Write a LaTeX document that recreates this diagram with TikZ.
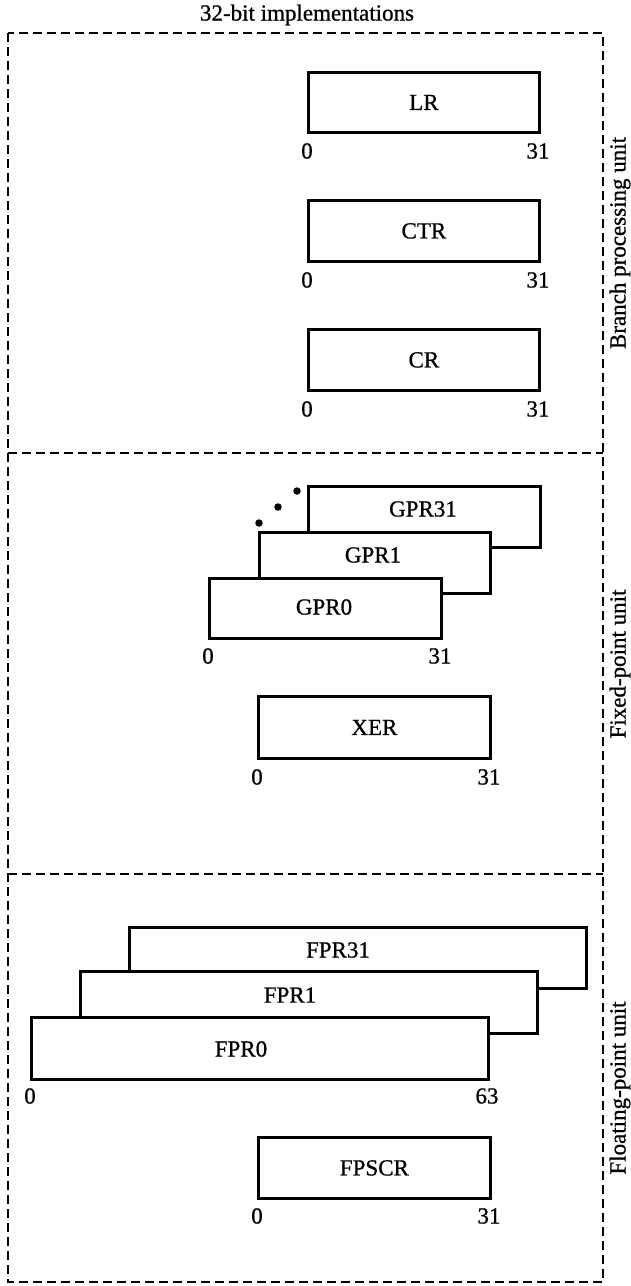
\documentclass[tikz,border=0pt]{standalone}
\usepackage{fontspec}
\setmainfont{Liberation Serif}
\newfontfamily\regfont{Liberation Serif}[RawFeature={embolden=0.8}]
\begin{document}
\begin{tikzpicture}[x=1pt,y=-1pt,
  reg/.style={draw, line width=2.8pt, fill=white, inner sep=0pt, anchor=north west},
  unitline/.style={line width=1.8pt, dash pattern=on 9pt off 5pt},
  txt/.style={font=\regfont\fontsize{23}{25}\selectfont, inner sep=0pt},
  dot/.style={circle, fill, inner sep=0pt, minimum size=7.5pt}]
\useasboundingbox (0,0) rectangle (631,1286);

% title and unit frames
\node[txt] (title) at (307,15) {32-bit implementations};
\coordinate (tl) at (8,33);
\coordinate (br) at (603,1282);
\coordinate (d1l) at (8,453);  \coordinate (d1r) at (603,453);
\coordinate (d2l) at (8,874);  \coordinate (d2r) at (603,874);
\draw[unitline] (tl) rectangle (br);
\draw[unitline] (d1l) -- (d1r);
\draw[unitline] (d2l) -- (d2r);
\node[txt, rotate=90] (bpu) at (620,243) {Branch processing unit};
\node[txt, rotate=90] (fxu) at (620,664) {Fixed-point unit};
\node[txt, rotate=90] (fpu) at (620,1088) {Floating-point unit};

% branch processing unit registers
\node[reg, minimum width=231pt, minimum height=60pt] (lr) at (307,71) {};
\node[txt] (lrname) at (lr.center) {LR};
\node[txt] (lr0) at (307,151) {0};
\node[txt] (lr31) at (538,151) {31};

\node[reg, minimum width=231pt, minimum height=61pt] (ctr) at (307,199) {};
\node[txt] (ctrname) at (ctr.center) {CTR};
\node[txt] (ctr0) at (307,280) {0};
\node[txt] (ctr31) at (538,280) {31};

\node[reg, minimum width=231pt, minimum height=61pt] (cr) at (307,328) {};
\node[txt] (crname) at (cr.center) {CR};
\node[txt] (cr0) at (307,409) {0};
\node[txt] (cr31) at (538,409) {31};

% fixed-point unit registers
\node[reg, minimum width=232pt, minimum height=61pt] (gpr31) at (307,485) {};
\node[reg, minimum width=231pt, minimum height=61pt] (gpr1) at (258,531) {};
\node[reg, minimum width=232pt, minimum height=60pt] (gpr0) at (208,577) {};
\node[txt] (gpr31name) at (423,509) {GPR31};
\node[txt] (gpr1name) at (373,555) {GPR1};
\node[txt] (gpr0name) at (324,607) {GPR0};
\node[txt] (gpr0lo) at (208,656) {0};
\node[txt] (gpr0hi) at (440,656) {31};
\node[dot] (dota) at (259,523) {};
\node[dot] (dotb) at (278,507) {};
\node[dot] (dotc) at (297,491) {};

\node[reg, minimum width=232pt, minimum height=62pt] (xer) at (257,695) {};
\node[txt] (xername) at (xer.center) {XER};
\node[txt] (xer0) at (257,777) {0};
\node[txt] (xer31) at (489,777) {31};

% floating-point unit registers
\node[reg, minimum width=457pt, minimum height=61pt] (fpr31) at (128,926) {};
\node[reg, minimum width=457pt, minimum height=62pt] (fpr1) at (79,970) {};
\node[reg, minimum width=457pt, minimum height=62pt] (fpr0) at (30,1016) {};
\node[txt] (fpr31name) at (338,950) {FPR31};
\node[txt] (fpr1name) at (290,995) {FPR1};
\node[txt] (fpr0name) at (241,1049) {FPR0};
\node[txt] (fpr0lo) at (30,1096) {0};
\node[txt] (fpr0hi) at (487,1096) {63};

\node[reg, minimum width=232pt, minimum height=61pt] (fpscr) at (257,1136) {};
\node[txt] (fpscrname) at (fpscr.center) {FPSCR};
\node[txt] (fpscr0) at (257,1216) {0};
\node[txt] (fpscr31) at (489,1216) {31};
\end{tikzpicture}
\end{document}
